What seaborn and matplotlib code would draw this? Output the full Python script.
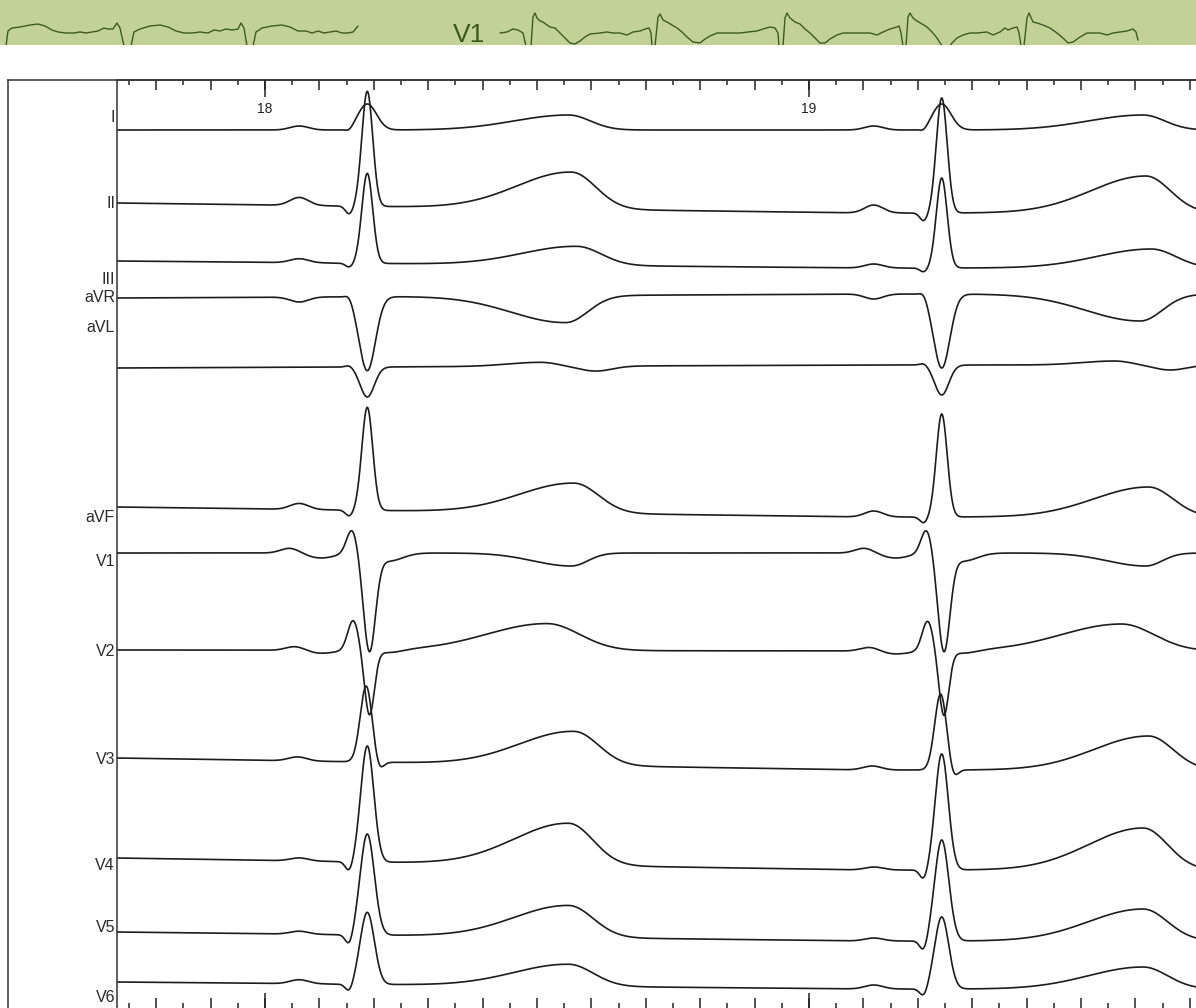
import numpy as np
import matplotlib
matplotlib.use("Agg")
import matplotlib.pyplot as plt
from matplotlib.ticker import MultipleLocator
import seaborn as sns

# ---------------------------------------------------------------------------
# Banner strip: V1 rhythm trace, (x, y) pixel knots of the strip
# ---------------------------------------------------------------------------
BANNER_LEFT_X = [2, 6, 8, 12, 20, 30, 38, 45, 52, 58, 66, 74, 80, 86, 92, 98, 104, 108, 113, 117,
                 120, 124, 128, 131, 134, 140, 150, 160, 168, 176, 184, 192, 200, 208, 214, 220,
                 226, 232, 238, 241, 244, 247, 250, 253, 256, 262, 272, 282, 290, 298, 306, 312,
                 318, 324, 330, 336, 342, 348, 353, 358]
BANNER_LEFT_Y = [46, 46, 31, 28, 27, 25, 24, 26, 30, 32, 33, 33, 32, 33, 32, 31, 28, 29, 29, 23,
                 28, 46, 52, 46, 32, 29, 26, 25, 27, 31, 33, 33, 32, 33, 30, 31,
                 29, 30, 29, 23, 28, 46, 52, 46, 32, 28, 26, 25, 27, 31, 31, 33,
                 31, 33, 32, 31, 33, 33, 32, 26]
BANNER_RIGHT_X = [500, 507, 513, 518, 523, 526, 528, 531, 533, 535, 537, 540, 543, 547, 550, 555,
                  560, 565, 570, 575, 580, 585, 590, 600, 607, 613, 620, 627, 633, 640, 645, 649,
                  651, 652, 653, 655, 658, 660, 663, 667, 672, 677, 682, 687, 693, 700, 705, 710,
                  717, 725, 733, 740, 748, 757, 763, 770, 775, 778, 779, 781, 783, 785, 787, 790,
                  795, 800, 805, 810, 815, 820, 825, 830, 837, 843, 853, 863, 870, 877, 883, 890,
                  897, 899, 901, 903, 904, 906, 908, 910, 913, 917, 922, 927, 932, 937, 942, 947,
                  952, 957, 963, 970, 977, 987, 993, 1000, 1005, 1008, 1013, 1017, 1019, 1021,
                  1022, 1024, 1027, 1029, 1033, 1037, 1043, 1050, 1057, 1063, 1068, 1073, 1080,
                  1087, 1093, 1100, 1107, 1113, 1120, 1127, 1133, 1136, 1138]
BANNER_RIGHT_Y = [33, 32, 29, 30, 33, 46, 50, 46, 17, 13, 18, 21, 22, 25, 27, 28,
                  33, 38, 43, 44, 41, 37, 34, 33, 32, 33, 33, 35, 32, 31, 29, 28,
                  33, 46, 50, 46, 17, 14, 20, 22, 25, 28, 32, 37, 42, 43, 39, 36,
                  33, 33, 33, 33, 32, 31, 29, 27, 28, 33, 46, 50, 46, 18, 13, 18,
                  22, 24, 29, 33, 38, 43, 43, 39, 35, 33, 33, 33, 33, 35, 32, 29,
                  27, 26, 33, 46, 50, 46, 17, 13, 18, 21, 24, 27, 32, 38, 46, 50,
                  43, 38, 35, 33, 33, 32, 35, 32, 28, 30, 28, 27, 33, 46,
                  50, 46, 18, 13, 22, 23, 25, 28, 33, 38, 43, 42, 37,
                  33, 33, 33, 35, 33, 32, 31, 29, 32, 40]

# ---------------------------------------------------------------------------
# 12-lead ECG: two beats, per-lead wave parameters
# amplitudes in pixels (positive = upward deflection), times in seconds
# ---------------------------------------------------------------------------
LEADS = ["I", "II", "III", "aVR", "aVL", "aVF", "V1", "V2", "V3", "V4", "V5", "V6"]
BASELINE = [130, 203, 261, 298, 368, 507, 553, 650, 758, 858, 932, 982]
DRIFT = [0, 10, 7, -4, -3, 10, 0, 1, 12, 12, 9, 7]
LABEL_Y = [118, 204, 280, 298, 328, 517, 562, 652, 760, 866, 928, 997]

R_TIMES = [18.188, 19.244]

P_AMP = [4, 8, 4, -5, 0, 6, 5, 4, 4, 3, 3, 4]
P_AT = [-0.125, -0.125, -0.125, -0.125, -0.125, -0.125, -0.142, -0.132, -0.128, -0.125, -0.125, -0.125]
P2_AMP = [0, 0, 0, 0, 0, 0, -5, -3, 0, 0, 0, 0]
Q_AMP = [-3, -8, -4, 4, 2, -6, 0, 0, 0, -10, -11, -8]
R_AMP = [26, 115, 90, -74, -30, 103, 24, 30, 76, 116, 101, 72]
R_AT = [0.0, 0.0, 0.0, 0.0, 0.0, 0.0, -0.028, -0.026, -0.002, 0.0, 0.0, 0.0]
R_SIG = [0.017, 0.010, 0.010, 0.015, 0.013, 0.010, 0.010, 0.010, 0.011, 0.012, 0.013, 0.013]
S_AMP = [0, 0, 0, 0, 0, 0, -96, -64, -9, 0, 0, 0]
S_AT = [0.0, 0.0, 0.0, 0.0, 0.0, 0.0, 0.004, 0.004, 0.021, 0.0, 0.0, 0.0]
S_SIG = [0.01, 0.01, 0.01, 0.01, 0.01, 0.01, 0.011, 0.009, 0.008, 0.01, 0.01, 0.01]
J_AMP = [0, 0, 0, 0, 0, 0, -8, -3, 0, 0, 0, 0]
T_AMP = [15, 37, 19, -27, 4, 30, -13, 27, 34, 42, 32, 22]
T_AT = [0.37, 0.375, 0.385, 0.365, 0.318, 0.38, 0.375, 0.33, 0.38, 0.37, 0.37, 0.37]
T_LEFT = [0.10, 0.10, 0.10, 0.10, 0.06, 0.10, 0.07, 0.11, 0.10, 0.10, 0.10, 0.10]
T_RIGHT = [0.04, 0.045, 0.045, 0.04, 0.03, 0.045, 0.03, 0.06, 0.045, 0.045, 0.045, 0.045]
T2_AMP = [0, 0, 0, 0, -5, 0, 0, 0, 0, 0, 0, 0]

TICK_MAJOR = [18, 19]
TICK_LABELS = ["18", "19"]

W, H = 1196, 1008
PX_PER_S = 544.0
T_START = 18 - (265 - 117) / PX_PER_S
T_END = 19 + (W - 265 - 544) / PX_PER_S
DRIFT_END = 19.1


def bump(t, c, s):
    return np.exp(-0.5 * ((t - c) / s) ** 2)


def skew_bump(t, c, sl, sr):
    s = np.where(t < c, sl, sr)
    return np.exp(-0.5 * ((t - c) / s) ** 2)


def lead_trace(i, t):
    base = BASELINE[i] + DRIFT[i] * np.clip((t - T_START) / (DRIFT_END - T_START), 0, 1)
    w = np.zeros_like(t)
    for r in R_TIMES:
        w += P_AMP[i] * bump(t, r + P_AT[i], 0.017)
        w += P2_AMP[i] * bump(t, r - 0.085, 0.025)
        w += Q_AMP[i] * bump(t, r - 0.033, 0.007)
        w += R_AMP[i] * bump(t, r + R_AT[i], R_SIG[i])
        w += S_AMP[i] * bump(t, r + S_AT[i], S_SIG[i])
        w += J_AMP[i] * bump(t, r + 0.04, 0.025)
        w += T_AMP[i] * skew_bump(t, r + T_AT[i], T_LEFT[i], T_RIGHT[i])
        w += T2_AMP[i] * bump(t, r + 0.42, 0.03)
    return base - w


def px_rect(x0, y0, x1, y1):
    return [x0 / W, 1 - y1 / H, (x1 - x0) / W, (y1 - y0) / H]


sns.set_theme(style="white")
plt.rcParams["font.family"] = ["Liberation Sans", "DejaVu Sans"]

fig = plt.figure(figsize=(W / 100, H / 100), dpi=100)
fig.patch.set_facecolor("white")

# --- green banner with the V1 strip ---
bax = fig.add_axes(px_rect(0, 0, W, 45))
bax.set_facecolor("#c2d196")
bax.set_xlim(0, W)
bax.set_ylim(45, 0)
for sp in bax.spines.values():
    sp.set_visible(False)
bax.set_xticks([])
bax.set_yticks([])
strip_color = "#3d5a20"
sns.lineplot(x=BANNER_LEFT_X, y=BANNER_LEFT_Y, ax=bax, color=strip_color, lw=1.0,
             sort=False, estimator=None)
sns.lineplot(x=BANNER_RIGHT_X, y=BANNER_RIGHT_Y, ax=bax, color=strip_color, lw=1.0,
             sort=False, estimator=None)
bax.text(453, 42, "V1", fontsize=19, color="#3b5a1a", ha="left", va="baseline")

# --- outer frame ---
fax = fig.add_axes(px_rect(8, 80, W, H))
fax.set_facecolor("none")
fax.set_xticks([])
fax.set_yticks([])
for name, sp in fax.spines.items():
    sp.set_visible(name in ("left", "top"))
    sp.set_linewidth(1.1)
    sp.set_color("#333333")

# --- main lead panel ---
ax = fig.add_axes(px_rect(117, 80, W, H))
ax.set_facecolor("none")
t = np.linspace(T_START, T_END, 4000)
for i, name in enumerate(LEADS):
    sns.lineplot(x=t, y=lead_trace(i, t), ax=ax, color="#1c1c1c", lw=1.2,
                 sort=False, estimator=None)
    ax.text(T_START - 2 / PX_PER_S, LABEL_Y[i], name, ha="right", va="center",
            fontsize=11.5, color="#2a2a2a", clip_on=False)

ax.set_xlim(T_START, T_END)
ax.set_ylim(H, 80)
ax.set_yticks([])
ax.set_xlabel("")
ax.set_ylabel("")
ax.xaxis.set_major_locator(MultipleLocator(0.1))
ax.xaxis.set_minor_locator(MultipleLocator(0.05))
ax.tick_params(axis="x", which="both", direction="in", top=True, bottom=True,
               labelbottom=False, labeltop=False, width=1.1, color="#222222")
ax.tick_params(axis="x", which="major", length=7.2)
ax.tick_params(axis="x", which="minor", length=3.4)
for name, sp in ax.spines.items():
    sp.set_visible(name in ("left", "top"))
    sp.set_linewidth(1.1)
    sp.set_color("#333333")

sec_top = ax.secondary_xaxis("top")
sec_top.set_xticks(TICK_MAJOR, labels=TICK_LABELS)
sec_top.tick_params(direction="in", length=12, width=1.1, pad=-26, labelsize=10,
                    color="#222222", labelcolor="#222222")
sec_top.spines[:].set_visible(False)

sec_bot = ax.secondary_xaxis("bottom")
sec_bot.set_xticks(TICK_MAJOR, labels=["", ""])
sec_bot.tick_params(direction="in", length=11, width=1.1, color="#222222")
sec_bot.spines[:].set_visible(False)

fig.savefig("out.png", dpi=100)
